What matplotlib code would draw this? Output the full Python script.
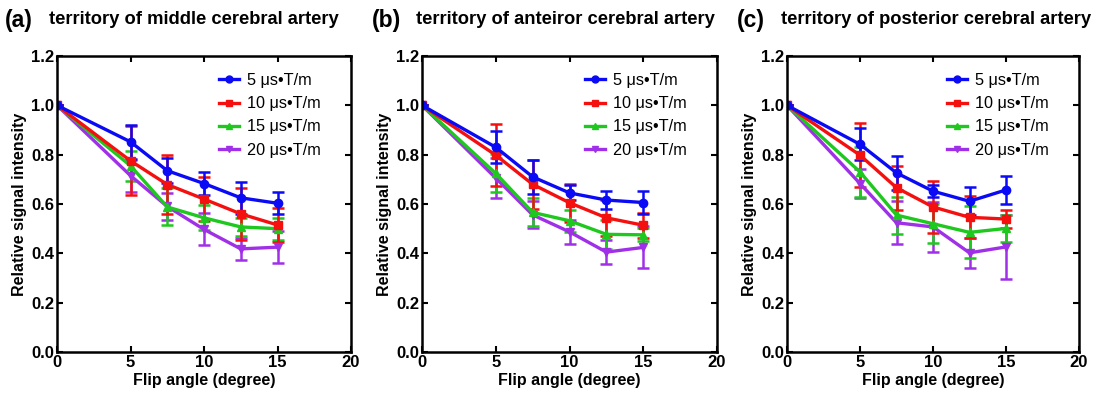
import matplotlib
matplotlib.use('Agg')
import matplotlib.pyplot as plt
from matplotlib.lines import Line2D

plt.rcParams['font.family'] = ['Liberation Sans', 'DejaVu Sans']
plt.rcParams['font.weight'] = 'bold'

flip = [0, 5, 7.5, 10, 12.5, 15]
series_labels = ['5 \u03bcs\u2022T/m', '10 \u03bcs\u2022T/m', '15 \u03bcs\u2022T/m', '20 \u03bcs\u2022T/m']
titles = ['territory of middle cerebral artery',
          'territory of anteiror cerebral artery',
          'territory of posterior cerebral artery']
panel_tags = ['(a)', '(b)', '(c)']

# (a) middle cerebral artery
mca_mean = [[1.0, 0.852, 0.735, 0.683, 0.625, 0.603],
            [1.0, 0.775, 0.679, 0.620, 0.560, 0.515],
            [1.0, 0.755, 0.588, 0.544, 0.507, 0.500],
            [1.0, 0.715, 0.590, 0.497, 0.418, 0.425]]
mca_err = [[0, 0.070, 0.050, 0.045, 0.065, 0.045],
           [0, 0.140, 0.120, 0.090, 0.105, 0.070],
           [0, 0.060, 0.075, 0.050, 0.035, 0.045],
           [0, 0.065, 0.055, 0.065, 0.045, 0.065]]

# (b) anterior cerebral artery
aca_mean = [[1.0, 0.830, 0.710, 0.645, 0.616, 0.606],
            [1.0, 0.798, 0.680, 0.605, 0.544, 0.514],
            [1.0, 0.724, 0.566, 0.532, 0.477, 0.475],
            [1.0, 0.705, 0.556, 0.487, 0.405, 0.424]]
aca_err = [[0, 0.065, 0.070, 0.030, 0.037, 0.047],
           [0, 0.125, 0.100, 0.078, 0.072, 0.050],
           [0, 0.077, 0.057, 0.045, 0.060, 0.026],
           [0, 0.080, 0.055, 0.050, 0.050, 0.085]]

# (c) posterior cerebral artery
pca_mean = [[1.0, 0.842, 0.726, 0.652, 0.611, 0.657],
            [1.0, 0.798, 0.666, 0.588, 0.546, 0.539],
            [1.0, 0.730, 0.555, 0.520, 0.485, 0.501],
            [1.0, 0.683, 0.524, 0.507, 0.402, 0.426]]
pca_err = [[0, 0.065, 0.070, 0.025, 0.056, 0.055],
           [0, 0.130, 0.090, 0.105, 0.085, 0.036],
           [0, 0.100, 0.075, 0.080, 0.105, 0.055],
           [0, 0.060, 0.087, 0.100, 0.060, 0.130]]

colors = ['#0a0af5', '#f51010', '#1ec81e', '#a030e8']
markers = ['o', 's', '^', 'v']

W, H = 1102, 393
fig = plt.figure(figsize=(W / 100, H / 100), dpi=100)

# axes boxes in pixels: left, top, right, bottom
boxes = [(57, 56, 351, 352), (422, 56, 717, 352), (787, 56, 1079, 352)]
tag_x = [5, 372, 737]

all_mean = [mca_mean, aca_mean, pca_mean]
all_err = [mca_err, aca_err, pca_err]

for p in range(3):
    l, t, r, b = boxes[p]
    ax = fig.add_axes([l / W, 1 - b / H, (r - l) / W, (b - t) / H])
    # draw purple first so blue ends up on top
    for i in [3, 2, 1, 0]:
        ax.errorbar(flip, all_mean[p][i], yerr=all_err[p][i], color=colors[i],
                    marker=markers[i], ms=6, lw=2.4, elinewidth=1.8,
                    capsize=4, capthick=1.8)
    handles = [Line2D([], [], color=colors[i], marker=markers[i], ms=5, lw=2.4)
               for i in range(4)]
    leg = ax.legend(handles, series_labels, loc='upper right', frameon=False,
                    fontsize=11.7, handlelength=1.2, labelspacing=0.5,
                    handletextpad=0.5, borderaxespad=0.2,
                    bbox_to_anchor=(0.93, 0.975))
    for txt in leg.get_texts():
        txt.set_fontweight('normal')
    ax.set_xlim(0, 20)
    ax.set_ylim(0, 1.2)
    ax.set_xticks([0, 5, 10, 15, 20])
    ax.set_yticks([0.0, 0.2, 0.4, 0.6, 0.8, 1.0, 1.2])
    ax.set_yticklabels(['0.0', '0.2', '0.4', '0.6', '0.8', '1.0', '1.2'])
    ax.tick_params(direction='in', length=4, width=1.5, labelsize=12,
                   top=True, right=True, pad=2)
    for s in ax.spines.values():
        s.set_linewidth(1.8)
    ax.set_xlabel('Flip angle (degree)', fontsize=11.5, fontweight='bold', labelpad=2)
    ax.set_ylabel('Relative signal intensity', fontsize=11.5, fontweight='bold', labelpad=3)
    fig.text(tag_x[p] / W, 1 - 20 / H, panel_tags[p], fontsize=16.5, fontweight='bold',
             va='center', ha='left')
    fig.text((tag_x[p] + 44) / W, 1 - 20 / H, titles[p], fontsize=13.2, fontweight='bold',
             va='center', ha='left')

fig.savefig('out.png', dpi=100)
